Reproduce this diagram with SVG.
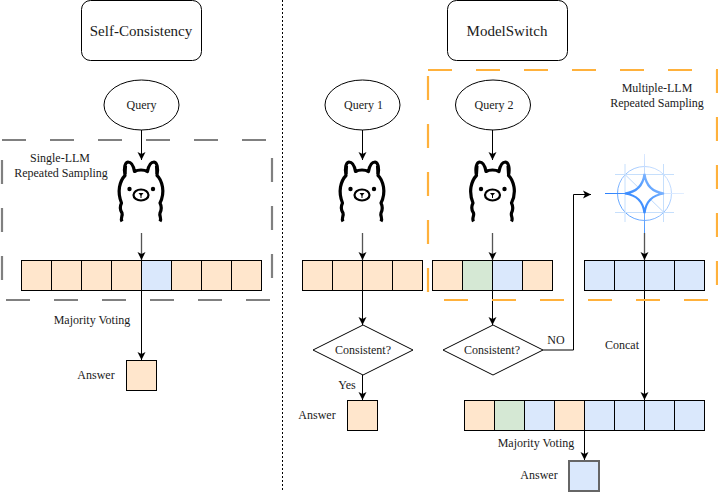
<svg xmlns="http://www.w3.org/2000/svg" width="718" height="492" viewBox="0 0 718 492">
<style>
text{font-family:"Liberation Serif","Times New Roman",serif;font-size:12px;fill:#1a1a1a;text-anchor:middle}
.title{font-size:15px}
.shape{fill:#fff;stroke:#000;stroke-width:1}
.o{fill:#ffe6cc;stroke:#000;stroke-width:1}
.b{fill:#dae8fc;stroke:#000;stroke-width:1}
.g{fill:#d5e8d4;stroke:#000;stroke-width:1}
.conn{fill:none;stroke:#000;stroke-width:1;marker-end:url(#arrow)}
.conn2{fill:none;stroke:#555;stroke-width:1.3;marker-end:url(#arrow)}
.dash{fill:none;stroke-width:2.2;stroke-dasharray:24 24}
</style>
<defs>
<marker id="arrow" markerUnits="userSpaceOnUse" markerWidth="10" markerHeight="10" refX="8.5" refY="4.5" orient="auto">
<path d="M0.5 0.5L8.5 4.5L0.5 8.5L2.500 4.5Z" fill="#000"/>
</marker>
<g id="llama">
<path d="M32 91.500C30 88 33 86 32 83C30 80 29.500 77 31.500 73C29.500 68 28.500 63 29.500 57C30.500 52 32.500 48 35 45.500C33.500 38 35 32.500 38 32C41 32 43.500 36 44.500 41.500C48 39.500 54 39.500 57.500 41.500C58.500 36 61 32 64 32C67 32.500 68.500 38 67 45.500C70 48 71.500 52 72.500 57C73.500 63 72.500 68 70 73C72 77 71.500 80 70 83C69 86 72 88 70 91.500" fill="none" stroke="#000" stroke-width="3.200" stroke-linejoin="round"/>
<path d="M35.800 44L36.300 36" stroke="#000" stroke-width="1.500"/>
<path d="M66.200 44L65.700 36" stroke="#000" stroke-width="1.500"/>
<circle cx="39.500" cy="59" r="2.200"/><circle cx="63" cy="59" r="2.200"/>
<ellipse cx="51" cy="65" rx="7.500" ry="5.500" fill="none" stroke="#000" stroke-width="2.200"/>
<path d="M48.500 63H53.500L51 66Z"/><path d="M51 65V68" stroke="#000"/>
</g>
<linearGradient id="gem" gradientUnits="userSpaceOnUse" x1="625" y1="215" x2="668" y2="172">
<stop offset="0" stop-color="#217bfe"/><stop offset=".55" stop-color="#5aa0ff"/><stop offset="1" stop-color="#bcd8ff"/>
</linearGradient>
<linearGradient id="ring" gradientUnits="userSpaceOnUse" x1="622" y1="215" x2="668" y2="170">
<stop offset="0" stop-color="#5aa0ff"/><stop offset="1" stop-color="#d3e5ff"/>
</linearGradient>
<linearGradient id="hline" gradientUnits="userSpaceOnUse" x1="605" y1="0" x2="684" y2="0">
<stop offset="0" stop-color="#2b80fd"/><stop offset=".3" stop-color="#4a96fd"/><stop offset=".65" stop-color="#cfe2fe"/><stop offset="1" stop-color="#e2eeff"/>
</linearGradient>
<linearGradient id="vline" gradientUnits="userSpaceOnUse" x1="0" y1="154" x2="0" y2="233">
<stop offset="0" stop-color="#dbe9ff"/><stop offset=".6" stop-color="#8fbdfd"/><stop offset="1" stop-color="#4a96fd"/>
</linearGradient>
</defs>

<g id="divider"><path d="M282.500 0V491" fill="none" stroke="#000" stroke-dasharray="2 2"/></g>

<g id="connectors">
<path class="conn" d="M141.500 130V160"/>
<path class="conn2" d="M141.500 233V260"/>
<path class="conn" d="M141.500 290.500V360"/>
<path class="conn" d="M362.500 130V160"/>
<path class="conn2" d="M362.500 233V260"/>
<path class="conn" d="M362.500 290.500V325"/>
<path class="conn" d="M362.500 375V400"/>
<path class="conn" d="M492.500 130V160"/>
<path class="conn2" d="M492.500 233V260"/>
<path class="conn" d="M492.500 290.500V325"/>
<path class="conn" d="M543 350H573.500V194.500H591"/>
<path class="conn2" d="M644.500 233V260"/>
<path class="conn" d="M644.500 290.500V400"/>
<path class="conn" d="M584.500 431V460"/>
</g>

<g id="self-consistency"><rect class="shape" x="81.500" y="0.500" width="120" height="60" rx="9"/><text class="title" x="141" y="36">Self-Consistency</text></g>
<g id="modelswitch"><rect class="shape" x="447.500" y="0.500" width="120" height="60" rx="9"/><text class="title" x="507" y="36">ModelSwitch</text></g>

<g id="single-llm-group"><rect class="dash" stroke="#808080" x="2" y="140" width="270" height="160"/><text x="60" y="162">Single-LLM</text><text x="61" y="177">Repeated Sampling</text></g>
<g id="multiple-llm-group"><rect class="dash" stroke="#ffb13b" x="428" y="70" width="289" height="230"/><text x="657" y="92">Multiple-LLM</text><text x="657" y="107">Repeated Sampling</text></g>

<g id="query"><ellipse class="shape" cx="141.500" cy="105" rx="37.500" ry="25"/><text x="141.500" y="109">Query</text></g>
<g id="query-1"><ellipse class="shape" cx="362.500" cy="105" rx="37.500" ry="25"/><text x="363.500" y="109">Query 1</text></g>
<g id="query-2"><ellipse class="shape" cx="493" cy="105" rx="37.500" ry="25"/><text x="494" y="109">Query 2</text></g>

<g id="llama-1"><use href="#llama" transform="translate(90 130)"/></g>
<g id="llama-2"><use href="#llama" transform="translate(311 130)"/></g>
<g id="llama-3"><use href="#llama" transform="translate(441.500 130)"/></g>

<g id="gemini">
<g fill="none" stroke-width="1">
<circle cx="644.500" cy="193.500" r="27" stroke="url(#ring)"/>
<path d="M615 174.500H674M615 212.500H674M625 164V222M663.500 164V222" stroke="#c6dffc"/>
<path d="M625 174.500L664 212.500" stroke="#bdd9fc"/>
<path d="M644.500 154V233" stroke="url(#vline)"/>
<path d="M605 193.500H684" stroke="url(#hline)"/>
</g>
<path d="M644.500 174C646 186 652 192 664 193.500C652 195 646 201 644.500 213C643 201 637 195 625 193.500C637 192 643 186 644.500 174Z" fill="#fff" stroke="url(#gem)" stroke-width="2.200"/>
</g>

<g id="array-left">
<rect class="o" x="21.500" y="260.500" width="30" height="30"/><rect class="o" x="51.500" y="260.500" width="30" height="30"/><rect class="o" x="81.500" y="260.500" width="30" height="30"/><rect class="o" x="111.500" y="260.500" width="30" height="30"/><rect class="b" x="141.500" y="260.500" width="30" height="30"/><rect class="o" x="171.500" y="260.500" width="30" height="30"/><rect class="o" x="201.500" y="260.500" width="30" height="30"/><rect class="o" x="231.500" y="260.500" width="30" height="30"/>
</g>
<g id="array-query-1">
<rect class="o" x="302.500" y="260.500" width="30" height="30"/><rect class="o" x="332.500" y="260.500" width="30" height="30"/><rect class="o" x="362.500" y="260.500" width="30" height="30"/><rect class="o" x="392.500" y="260.500" width="30" height="30"/>
</g>
<g id="array-query-2">
<rect class="o" x="432.500" y="260.500" width="30" height="30"/><rect class="g" x="462.500" y="260.500" width="30" height="30"/><rect class="b" x="492.500" y="260.500" width="30" height="30"/><rect class="o" x="522.500" y="260.500" width="30" height="30"/>
</g>
<g id="array-gemini">
<rect class="b" x="584.500" y="260.500" width="30" height="30"/><rect class="b" x="614.500" y="260.500" width="30" height="30"/><rect class="b" x="644.500" y="260.500" width="30" height="30"/><rect class="b" x="674.500" y="260.500" width="30" height="30"/>
</g>
<g id="array-concat">
<rect class="o" x="464.500" y="400.500" width="30" height="30"/><rect class="g" x="494.500" y="400.500" width="30" height="30"/><rect class="b" x="524.500" y="400.500" width="30" height="30"/><rect class="o" x="554.500" y="400.500" width="30" height="30"/><rect class="b" x="584.500" y="400.500" width="30" height="30"/><rect class="b" x="614.500" y="400.500" width="30" height="30"/><rect class="b" x="644.500" y="400.500" width="30" height="30"/><rect class="b" x="674.500" y="400.500" width="30" height="30"/>
</g>

<g id="consistent-1"><path class="shape" d="M363 325L413 350L363 375L313 350Z"/><text x="363" y="354">Consistent?</text></g>
<g id="consistent-2"><path class="shape" d="M493 325L543 350L493 375L443 350Z"/><text x="492" y="354">Consistent?</text></g>

<g id="answer-left"><rect class="o" x="126.500" y="360.500" width="30" height="30"/><text x="96" y="379">Answer</text></g>
<g id="answer-1"><rect class="o" x="347.500" y="400.500" width="30" height="30"/><text x="317" y="419">Answer</text></g>
<g id="answer-final"><rect class="b" style="stroke:#666;stroke-width:2" x="569" y="461" width="30" height="30"/><text x="539" y="479">Answer</text></g>

<g id="labels">
<text x="92" y="324">Majority Voting</text>
<text x="347" y="389">Yes</text>
<text x="556" y="344">NO</text>
<text x="622" y="349">Concat</text>
<text x="536" y="447">Majority Voting</text>
</g>
</svg>
